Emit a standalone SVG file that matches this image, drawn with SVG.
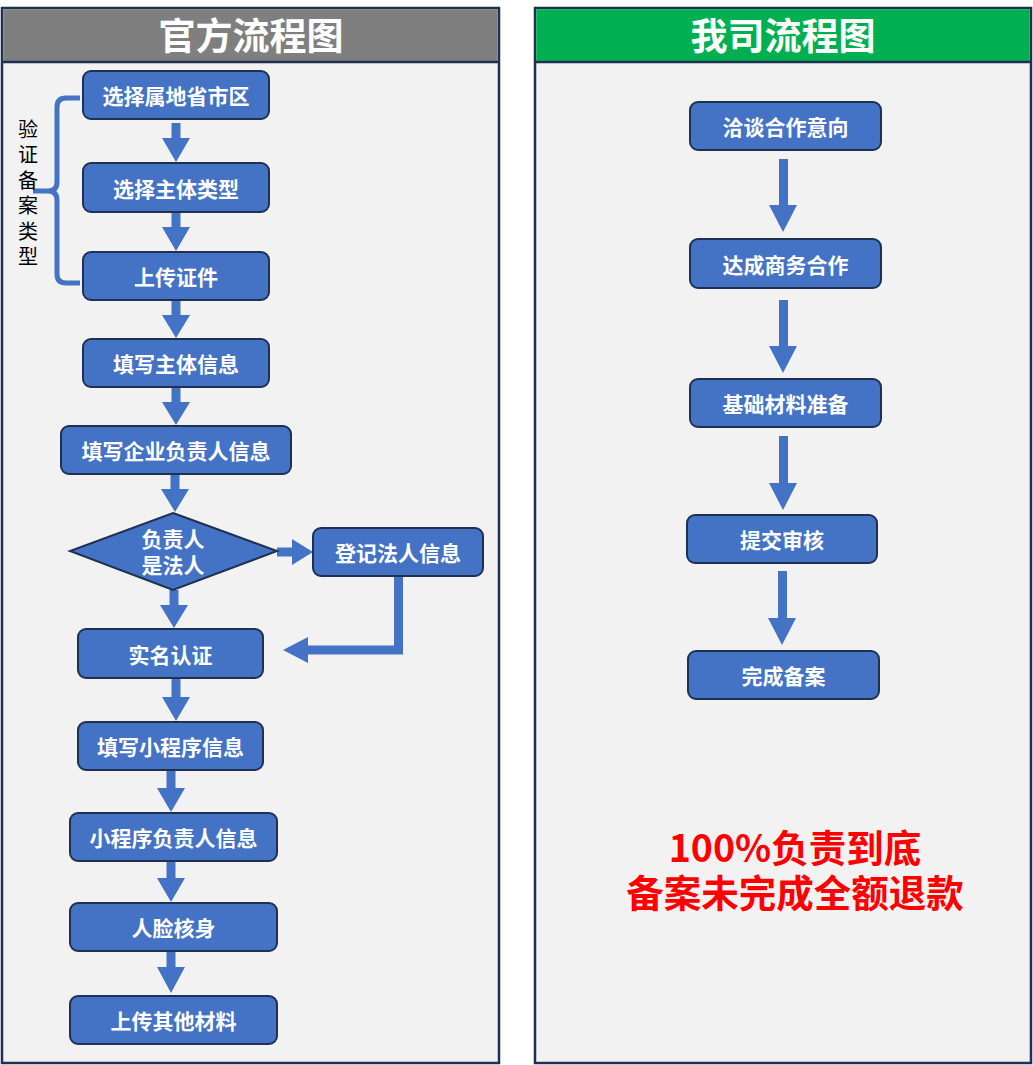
<svg xmlns="http://www.w3.org/2000/svg" width="1033" height="1065" viewBox="0 0 1033 1065">
<style>
.panel{fill:#f2f2f2;stroke:#1f3050;stroke-width:2.5}
.hline{stroke:#1f3050;stroke-width:2.5}
.box{fill:#4472c4;stroke:#1f3050;stroke-width:2}
.t{font-family:"Noto Sans CJK SC","Microsoft YaHei",sans-serif;font-weight:bold;font-size:21px;fill:#fff;text-anchor:middle;dominant-baseline:central}
.title{font-family:"Noto Sans CJK SC",sans-serif;font-weight:bold;font-size:37px;fill:#fff;text-anchor:middle}
.arr{fill:#4472c4}
.side{font-family:"Noto Sans CJK SC",sans-serif;font-size:20px;fill:#000;writing-mode:vertical-rl;letter-spacing:5.5px}
.red{font-family:"Noto Sans CJK SC",sans-serif;font-weight:bold;font-size:37.5px;fill:#ff0000;text-anchor:middle}
</style>
<rect width="1033" height="1065" fill="#ffffff"/>
<g id="panel-left">
<rect class="panel" x="2" y="8" width="497" height="1055"/>
<rect x="3.25" y="9.25" width="494.5" height="52.5" fill="#7f7f7f"/>
<line class="hline" x1="2" y1="62" x2="499" y2="62"/>
<text class="title" x="251" y="50">官方流程图</text>
</g>
<g id="panel-right">
<rect class="panel" x="535" y="8" width="496" height="1055"/>
<rect x="536.25" y="9.25" width="493.5" height="52.5" fill="#00b050"/>
<line class="hline" x1="535" y1="62" x2="1031" y2="62"/>
<text class="title" x="783" y="50">我司流程图</text>
</g>
<g id="bracket">
<path d="M80,98 H66 Q57,98 57,107 V182 Q57,191 48,191 H33 M48,191 Q57,191 57,200 V274 Q57,283 66,283 H80" fill="none" stroke="#4472c4" stroke-width="5"/>
<text class="side" x="28" y="119">验证备案类型</text>
</g>
<g id="connectors">
<polygon class="arr" points="171.5,123 180.5,123 180.5,138 190,138 176,162 162,138 171.5,138"/>
<polygon class="arr" points="171.5,212 180.5,212 180.5,227 190,227 176,251 162,227 171.5,227"/>
<polygon class="arr" points="171.5,300 180.5,300 180.5,315 190,315 176,338 162,315 171.5,315"/>
<polygon class="arr" points="171.5,387 180.5,387 180.5,402 190,402 176,425 162,402 171.5,402"/>
<polygon class="arr" points="170.5,474 179.5,474 179.5,489 189,489 175,512 161,489 170.5,489"/>
<polygon class="arr" points="169.5,590 178.5,590 178.5,605 188,605 174,628 160,605 169.5,605"/>
<polygon class="arr" points="277,547.5 292,547.5 292,539 313,552 292,565 292,556.5 277,556.5"/>
<polygon class="arr" points="394,576 403,576 403,654.5 308,654.5 308,663 283,650 308,637 308,645.5 394,645.5"/>
<polygon class="arr" points="171.5,678 180.5,678 180.5,697 190,697 176,721 162,697 171.5,697"/>
<polygon class="arr" points="166.5,770 175.5,770 175.5,788 185,788 171,812 157,788 166.5,788"/>
<polygon class="arr" points="166.5,861 175.5,861 175.5,878 185,878 171,902 157,878 166.5,878"/>
<polygon class="arr" points="166.5,951 175.5,951 175.5,967 185,967 171,993 157,967 166.5,967"/>
<polygon class="arr" points="779,159 788,159 788,205 797,205 783,232 769,205 779,205"/>
<polygon class="arr" points="779,300 788,300 788,346 797,346 783,373 769,346 779,346"/>
<polygon class="arr" points="779,436 788,436 788,483 797,483 783,510 769,483 779,483"/>
<polygon class="arr" points="778,571 787,571 787,618 796,618 782,645 768,618 778,618"/>
</g>
<g id="n1"><rect class="box" x="83" y="71" width="186" height="48" rx="8"/><text class="t" x="176" y="95">选择属地省市区</text></g>
<g id="n2"><rect class="box" x="83" y="163" width="186" height="49" rx="8"/><text class="t" x="176" y="187.5">选择主体类型</text></g>
<g id="n3"><rect class="box" x="83" y="252" width="186" height="48" rx="8"/><text class="t" x="176" y="276">上传证件</text></g>
<g id="n4"><rect class="box" x="83" y="339" width="186" height="48" rx="8"/><text class="t" x="176" y="363">填写主体信息</text></g>
<g id="n5"><rect class="box" x="61" y="426" width="230" height="48" rx="8"/><text class="t" x="176" y="450">填写企业负责人信息</text></g>
<g id="n6"><polygon class="box" points="173,513 277,551 173,590 70,551"/><text class="t"><tspan x="173" y="538">负责人</tspan><tspan x="173" y="564">是法人</tspan></text></g>
<g id="n7"><rect class="box" x="313" y="528" width="170" height="48" rx="8"/><text class="t" x="398" y="552">登记法人信息</text></g>
<g id="n8"><rect class="box" x="78" y="629" width="185" height="49" rx="8"/><text class="t" x="170.5" y="653.5">实名认证</text></g>
<g id="n9"><rect class="box" x="78" y="722" width="185" height="48" rx="8"/><text class="t" x="170.5" y="746">填写小程序信息</text></g>
<g id="n10"><rect class="box" x="70" y="813" width="207" height="48" rx="8"/><text class="t" x="173.5" y="837">小程序负责人信息</text></g>
<g id="n11"><rect class="box" x="70" y="903" width="207" height="48" rx="8"/><text class="t" x="173.5" y="927">人脸核身</text></g>
<g id="n12"><rect class="box" x="70" y="996" width="207" height="48" rx="8"/><text class="t" x="173.5" y="1020">上传其他材料</text></g>
<g id="r1"><rect class="box" x="690" y="102" width="191" height="48" rx="8"/><text class="t" x="785.5" y="126">洽谈合作意向</text></g>
<g id="r2"><rect class="box" x="690" y="239" width="191" height="49" rx="8"/><text class="t" x="785.5" y="263.5">达成商务合作</text></g>
<g id="r3"><rect class="box" x="690" y="379" width="191" height="48" rx="8"/><text class="t" x="785.5" y="403">基础材料准备</text></g>
<g id="r4"><rect class="box" x="687" y="515" width="190" height="48" rx="8"/><text class="t" x="782" y="539">提交审核</text></g>
<g id="r5"><rect class="box" x="688" y="651" width="191" height="48" rx="8"/><text class="t" x="783.5" y="675">完成备案</text></g>
<g id="promise">
<text class="red"><tspan x="795" y="862">100%负责到底</tspan><tspan x="795" y="907">备案未完成全额退款</tspan></text>
</g>
</svg>
